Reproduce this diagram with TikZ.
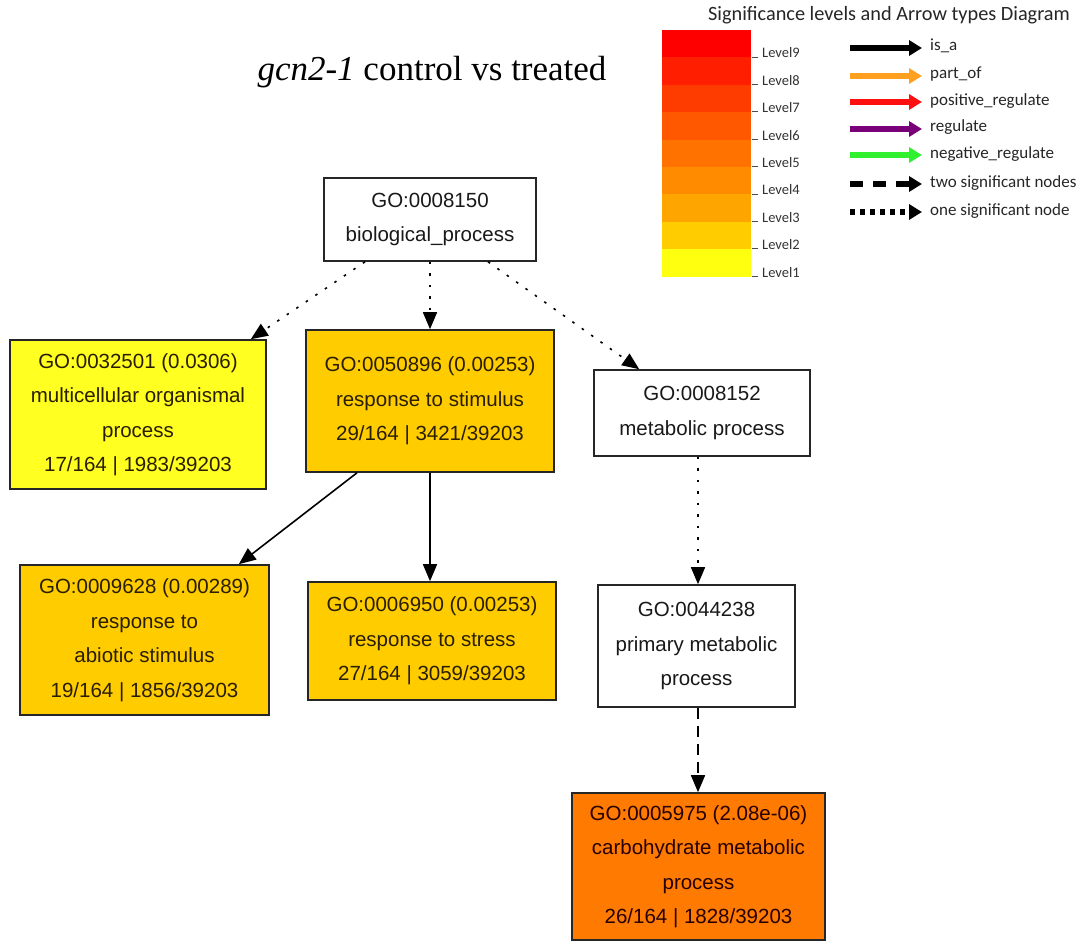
\documentclass[tikz,border=0pt]{standalone}
\usepackage{fontspec}
\setmainfont{Liberation Serif}
\newfontfamily\nodefont{Liberation Sans}
\newfontfamily\legfont{Carlito}
\usetikzlibrary{arrows.meta}
\definecolor{lv1}{HTML}{FFFF10}
\definecolor{lv2}{HTML}{FFCC00}
\definecolor{lv3}{HTML}{FFA500}
\definecolor{lv4}{HTML}{FF8C00}
\definecolor{lv5}{HTML}{FF7200}
\definecolor{lv6}{HTML}{FF5800}
\definecolor{lv7}{HTML}{FF3C00}
\definecolor{lv8}{HTML}{FF1E00}
\definecolor{lv9}{HTML}{FF0000}
\definecolor{nodeyellow}{HTML}{FFFF22}
\definecolor{nodegold}{HTML}{FFCC00}
\definecolor{nodeorange}{HTML}{FF7A00}
\definecolor{txtdark}{HTML}{2A1E00}
\definecolor{partof}{HTML}{FFA020}
\definecolor{posreg}{HTML}{FF1010}
\definecolor{reg}{HTML}{7A007A}
\definecolor{negreg}{HTML}{30F030}
\tikzset{
  gobox/.style={draw=black!85, line width=1.6pt, rectangle, inner sep=0pt, align=center,
    font=\nodefont\fontsize{20.5}{34.5}\selectfont, text=txtdark},
  edge/.style={line width=1.6pt, -{Triangle[length=17pt,width=14pt]}},
  dotedge/.style={edge, dash pattern=on 2.5pt off 9pt},
  dashedge/.style={edge, dash pattern=on 11pt off 7pt},
  legarrow/.style={line width=5.5pt, -{Triangle[length=13pt,width=15pt]}, shorten >=8pt},
  leglabel/.style={anchor=west, inner sep=0pt, font=\legfont\fontsize{17}{19}\selectfont, text=black!85},
  levlabel/.style={anchor=west, inner sep=0pt, font=\legfont\fontsize{14.5}{16}\selectfont, text=black!80},
}
\begin{document}
\begin{tikzpicture}[x=1pt,y=-1pt]
\useasboundingbox (0,0) rectangle (1084,942);
\fill[white] (0,0) rectangle (1084,942);

% title
\node[font=\fontsize{35}{38}\selectfont, inner sep=0pt] (title) at (432,72) {\textit{gcn2-1} control vs treated};

% legend
\node[font=\legfont\fontsize{20.3}{22}\selectfont, inner sep=0pt, text=black!85] (legtitle) at (889,15) {Significance levels and Arrow types Diagram};
\foreach \k [evaluate=\k as \top using {30+(9-\k)*27.4}] in {9,8,...,1}{
  \fill[lv\k] (662,\top) rectangle (751,\top+27.6);
  \draw[black!70, line width=0.8pt] (752,\top+27) -- (758,\top+27);
  \node[levlabel] (lev\k) at (762,\top+23) {Level\k};
}
\node[leglabel] (l1) at (930,46) {is\_a};
\node[leglabel] (l2) at (930,74) {part\_of};
\node[leglabel] (l3) at (930,101) {positive\_regulate};
\node[leglabel] (l4) at (930,127) {regulate};
\node[leglabel] (l5) at (930,154) {negative\_regulate};
\node[leglabel] (l6) at (930,183) {two significant nodes};
\node[leglabel] (l7) at (930,211) {one significant node};
\coordinate (a1) at (850,48);
\coordinate (a2) at (850,76);
\coordinate (a3) at (850,102);
\coordinate (a4) at (850,129);
\coordinate (a5) at (850,155);
\coordinate (a6) at (850,184);
\coordinate (a7) at (850,212);
\draw[legarrow, black] (a1) -- (a1 -| l1.west);
\draw[legarrow, partof] (a2) -- (a2 -| l2.west);
\draw[legarrow, posreg] (a3) -- (a3 -| l3.west);
\draw[legarrow, reg] (a4) -- (a4 -| l4.west);
\draw[legarrow, negreg] (a5) -- (a5 -| l5.west);
\draw[legarrow, black, dash pattern=on 13pt off 10pt] (a6) -- (a6 -| l6.west);
\draw[legarrow, black, dash pattern=on 5pt off 5pt] (a7) -- (a7 -| l7.west);

% GO nodes
\node[gobox, fill=white, text=black!90, minimum width=212pt, minimum height=83pt] (bp) at (430,219.5)
  {GO:0008150\\biological\_process};
\node[gobox, fill=nodeyellow, minimum width=256pt, minimum height=149pt] (n32501) at (138,414.5)
  {GO:0032501 (0.0306)\\multicellular organismal\\process\\17/164 | 1983/39203};
\node[gobox, fill=nodegold, minimum width=248pt, minimum height=142pt] (n50896) at (430,401)
  {GO:0050896 (0.00253)\\response to stimulus\\29/164 | 3421/39203};
\node[gobox, fill=white, text=black!90, minimum width=216pt, minimum height=86pt] (n8152) at (702,413)
  {GO:0008152\\metabolic process};
\node[gobox, fill=nodegold, minimum width=249pt, minimum height=150pt] (n9628) at (144.5,640)
  {GO:0009628 (0.00289)\\response to\\abiotic stimulus\\19/164 | 1856/39203};
\node[gobox, fill=nodegold, minimum width=248pt, minimum height=118pt] (n6950) at (432,641)
  {GO:0006950 (0.00253)\\response to stress\\27/164 | 3059/39203};
\node[gobox, fill=white, text=black!90, minimum width=197pt, minimum height=122pt] (n44238) at (696.5,646)
  {GO:0044238\\primary metabolic\\process};
\node[gobox, fill=nodeorange, text=black!85!red, minimum width=253pt, minimum height=147pt] (n5975) at (698.5,866.5)
  {GO:0005975 (2.08e-06)\\carbohydrate metabolic\\process\\26/164 | 1828/39203};

% edges
\draw[dotedge] ([xshift=-65pt]bp.south) -- ([xshift=-16pt]n32501.north east);
\draw[dotedge] (bp.south) -- (n50896.north);
\draw[dotedge] ([xshift=58pt]bp.south) -- ([xshift=46pt]n8152.north west);
\draw[edge] ([xshift=-73pt]n50896.south) -- ([xshift=-31pt]n9628.north east);
\draw[edge] (n50896.south) -- (n6950.north -| n50896.south);
\draw[dotedge] ([xshift=-4pt]n8152.south) -- ([xshift=1.5pt]n44238.north);
\draw[dashedge] ([xshift=1.5pt]n44238.south) -- ([xshift=1.5pt]n44238.south |- n5975.north);
\end{tikzpicture}
\end{document}
